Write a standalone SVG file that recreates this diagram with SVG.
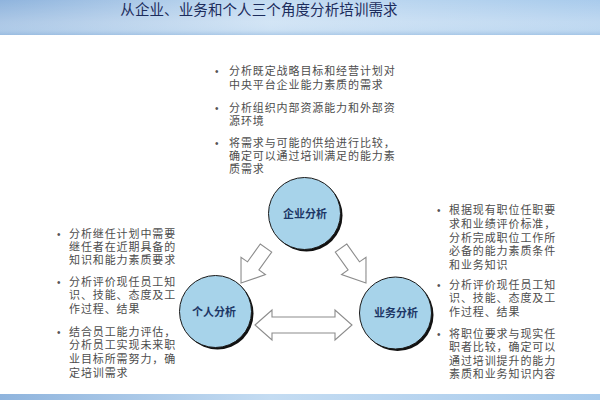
<svg xmlns="http://www.w3.org/2000/svg" width="600" height="400" viewBox="0 0 600 400">
<style>
.t{font-family:"Liberation Sans","Noto Sans CJK SC",sans-serif;font-size:11px;letter-spacing:0.9px;fill:#4d4d4d}
.b{font-family:"Liberation Sans",sans-serif;font-size:10px;fill:#555}
.lbl{font-family:"Liberation Sans","Noto Sans CJK SC",sans-serif;font-size:11px;font-weight:bold;fill:#1d3766;text-anchor:middle}
.node circle.c{fill:#a7d3ea;stroke:#1a1a1a;stroke-width:1}
.node circle.s{fill:#111}
.arr{fill:#ffffff;stroke:#8c8c8c;stroke-width:1.1;stroke-linejoin:miter}
</style>
<defs>
<linearGradient id="bandH" x1="0" y1="0" x2="1" y2="0">
<stop offset="0" stop-color="#8fb4dd"/>
<stop offset="0.45" stop-color="#c4dcf2"/>
<stop offset="1" stop-color="#a9cbec"/>
</linearGradient>
<linearGradient id="bandV" x1="0" y1="0" x2="0" y2="1">
<stop offset="0" stop-color="#ffffff" stop-opacity="0"/>
<stop offset="0.6" stop-color="#ffffff" stop-opacity="0.25"/>
<stop offset="0.85" stop-color="#dbeaf7" stop-opacity="0.4"/>
<stop offset="1" stop-color="#9fc0e2" stop-opacity="0.6"/>
</linearGradient>
</defs>
<rect width="600" height="400" fill="#ffffff"/>
<g id="title">
<rect x="0" y="0" width="600" height="35" fill="url(#bandH)"/>
<rect x="0" y="0" width="600" height="35" fill="url(#bandV)"/>
<text x="259" y="15" font-family="Liberation Sans, Noto Sans CJK SC, sans-serif" font-size="14.5" letter-spacing="0.1" fill="#1c2c5c" text-anchor="middle">从企业、业务和个人三个角度分析培训需求</text>
</g>
<g id="footer">
<rect x="0" y="394" width="600" height="6" fill="url(#bandH)"/>
</g>
<g id="text-top">
<text class="b" x="215" y="75">•</text>
<text class="t"><tspan x="229" y="75.4">分析既定战略目标和经营计划对</tspan><tspan x="229" y="88.7">中央平台企业能力素质的需求</tspan></text>
<text class="b" x="215" y="112">•</text>
<text class="t"><tspan x="229" y="112.2">分析组织内部资源能力和外部资</tspan><tspan x="229" y="125.2">源环境</tspan></text>
<text class="b" x="215" y="146.5">•</text>
<text class="t"><tspan x="229" y="146.7">将需求与可能的供给进行比较，</tspan><tspan x="229" y="160">确定可以通过培训满足的能力素</tspan><tspan x="229" y="173.2">质需求</tspan></text>
</g>
<g id="text-left">
<text class="b" x="57" y="237.5">•</text>
<text class="t"><tspan x="69" y="237.7">分析继任计划中需要</tspan><tspan x="69" y="251.1">继任者在近期具备的</tspan><tspan x="69" y="264.4">知识和能力素质要求</tspan></text>
<text class="b" x="57" y="286">•</text>
<text class="t"><tspan x="69" y="286.1">分析评价现任员工知</tspan><tspan x="69" y="299.4">识、技能、态度及工</tspan><tspan x="69" y="312.7">作过程、结果</tspan></text>
<text class="b" x="57" y="336">•</text>
<text class="t"><tspan x="69" y="336.1">结合员工能力评估，</tspan><tspan x="69" y="349.4">分析员工实现未来职</tspan><tspan x="69" y="362.7">业目标所需努力，确</tspan><tspan x="69" y="376.7">定培训需求</tspan></text>
</g>
<g id="text-right">
<text class="b" x="437" y="214">•</text>
<text class="t"><tspan x="449" y="214.4">根据现有职位任职要</tspan><tspan x="449" y="228.2">求和业绩评价标准，</tspan><tspan x="449" y="241.7">分析完成职位工作所</tspan><tspan x="449" y="255.2">必备的能力素质条件</tspan><tspan x="449" y="268.7">和业务知识</tspan></text>
<text class="b" x="437" y="288.5">•</text>
<text class="t"><tspan x="449" y="288.7">分析评价现任员工知</tspan><tspan x="449" y="302.2">识、技能、态度及工</tspan><tspan x="449" y="315.7">作过程、结果</tspan></text>
<text class="b" x="437" y="337.5">•</text>
<text class="t"><tspan x="449" y="337.7">将职位要求与现实任</tspan><tspan x="449" y="351.2">职者比较，确定可以</tspan><tspan x="449" y="364.7">通过培训提升的能力</tspan><tspan x="449" y="378.2">素质和业务知识内容</tspan></text>
</g>
<g id="connectors">
<polygon class="arr" transform="translate(266,248) rotate(125.5)" points="0,-7 22,-7 22,-15 43,0 22,15 22,7 0,7"/>
<polygon class="arr" transform="translate(341,248) rotate(54.5)" points="0,-7 22,-7 22,-15 43,0 22,15 22,7 0,7"/>
<polygon class="arr" points="255,325 272,310 272,317 335,317 335,310 352,325 335,340 335,333 272,333 272,340"/>
</g>
<g id="node-enterprise" class="node">
<circle class="s" cx="306.5" cy="215.5" r="36"/>
<circle class="c" cx="304.5" cy="213.5" r="36"/>
<text class="lbl" x="305" y="217.5">企业分析</text>
</g>
<g id="node-individual" class="node">
<circle class="s" cx="217.5" cy="313.5" r="36"/>
<circle class="c" cx="215.5" cy="311.5" r="36"/>
<text class="lbl" x="214" y="315.5">个人分析</text>
</g>
<g id="node-business" class="node">
<circle class="s" cx="397.5" cy="315" r="36"/>
<circle class="c" cx="395.5" cy="313" r="36"/>
<text class="lbl" x="396" y="317">业务分析</text>
</g>
</svg>
